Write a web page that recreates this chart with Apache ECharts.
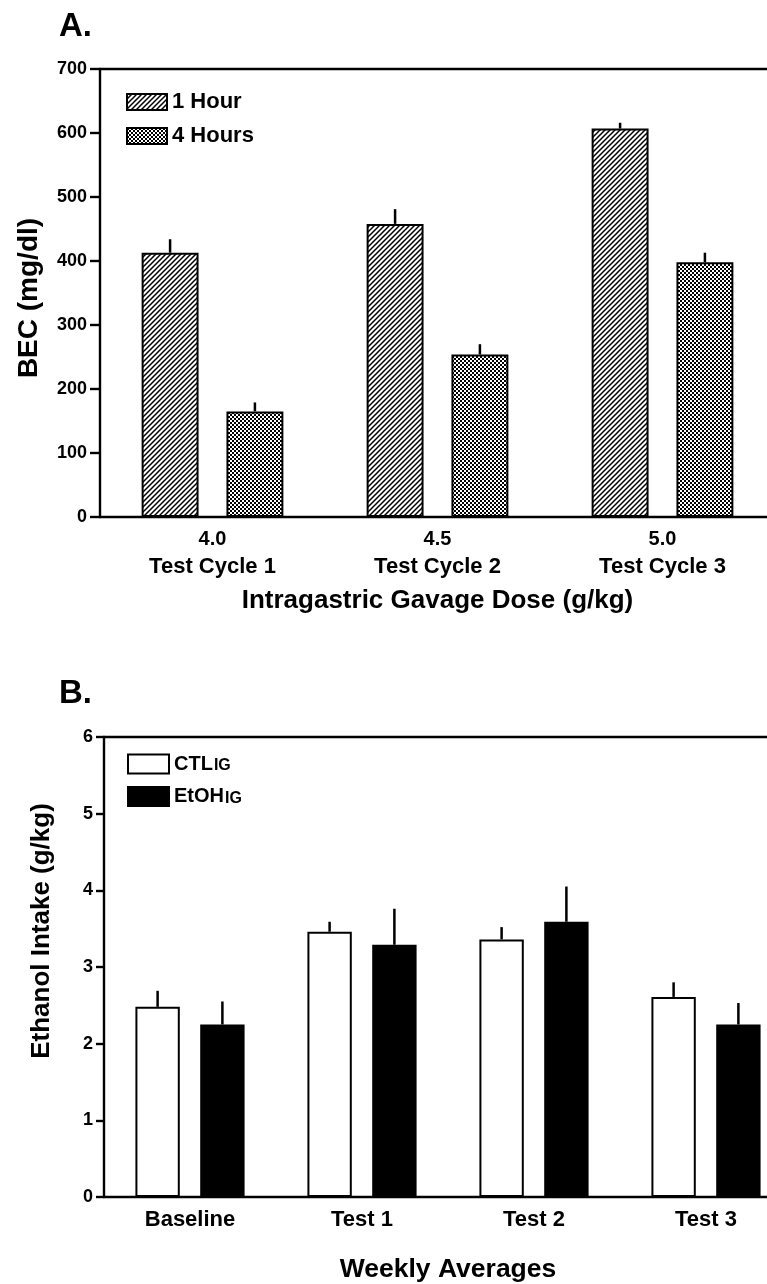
<!DOCTYPE html>
<html>
<head>
<meta charset="utf-8">
<script src="https://cdn.jsdelivr.net/npm/echarts@6/dist/echarts.min.js"></script>
<style>
    html, body { margin: 0; padding: 0; background: #fff; }
    #chart { width: 767px; height: 1284px; }
</style>
</head>
<body>
<div id="chart"></div>
<script>
// panel A: blood ethanol after gavage
const doses = ['4.0', '4.5', '5.0']
const cycles = ['Test Cycle 1', 'Test Cycle 2', 'Test Cycle 3']
const becOneHour = [413, 458, 607]
const becOneHourSem = [21, 23, 9]
const becFourHours = [165, 254, 398]
const becFourHoursSem = [14, 16, 15]

// panel B: weekly ethanol intake
const weeks = ['Baseline', 'Test 1', 'Test 2', 'Test 3']
const groups = ['CTL', 'EtOH']
const intakeCtl = [2.48, 3.46, 3.36, 2.61]
const intakeCtlSem = [0.21, 0.13, 0.16, 0.19]
const intakeEtoh = [2.25, 3.29, 3.59, 2.25]
const intakeEtohSem = [0.30, 0.47, 0.46, 0.28]

const FONT = 'Liberation Sans, Arial, sans-serif'
const INK = '#000'

const hatch = () => {
    const c = document.createElement('canvas')
    c.width = c.height = 5
    const g = c.getContext('2d')
    g.fillStyle = '#fff'
    g.fillRect(0, 0, 5, 5)
    g.strokeStyle = INK
    g.lineWidth = 1.5
    g.beginPath()
    g.moveTo(-1, 6); g.lineTo(6, -1)
    g.moveTo(-1, 1); g.lineTo(1, -1)
    g.moveTo(4, 6); g.lineTo(6, 4)
    g.stroke()
    return { image: c, repeat: 'repeat' }
}
const checker = () => {
    const c = document.createElement('canvas')
    c.width = c.height = 4
    const g = c.getContext('2d')
    g.fillStyle = '#fff'
    g.fillRect(0, 0, 4, 4)
    g.fillStyle = INK
    g.fillRect(0, 0, 2, 2)
    g.fillRect(2, 2, 2, 2)
    return { image: c, repeat: 'repeat' }
}

// upward-only error line drawn over each bar
const errorBars = (name, values, sems, axis, side, widthPct, gapPct) => ({
    type: 'custom',
    name,
    xAxisIndex: axis * 2,
    yAxisIndex: axis,
    z: 5,
    data: values.map((v, i) => [i, v, sems[i]]),
    renderItem: (params, api) => {
        const band = api.size([1, 0])[0]
        const w = band * widthPct
        const off = side * (w + w * gapPct) / 2
        const a = api.coord([api.value(0), api.value(1)])
        const b = api.coord([api.value(0), api.value(1) + api.value(2)])
        return {
            type: 'line',
            shape: { x1: a[0] + off, y1: a[1], x2: b[0] + off, y2: b[1] },
            style: { stroke: INK, lineWidth: 2.5 },
        }
    },
})

const axisLine = { show: true, lineStyle: { color: INK, width: 2.4 } }
const txt = (size, extra) => Object.assign({ color: INK, fontFamily: FONT, fontWeight: 'bold', fontSize: size }, extra || {})

const frameAxis = (gridIndex, data) => ({
    type: 'category', gridIndex, position: 'top', data,
    axisLine, axisTick: { show: false }, axisLabel: { show: false },
})

const chart = echarts.init(document.getElementById('chart'), null, { renderer: 'canvas' })
chart.setOption({
    animation: false,
    backgroundColor: '#fff',
    grid: [
        { left: 100, top: 69, width: 675, height: 448, outerBoundsMode: 'none' },
        { left: 104, top: 737, width: 688, height: 460, outerBoundsMode: 'none' },
    ],
    graphic: [
        { type: 'text', left: 59, top: 10, style: txt(33, { text: 'A.' }) },
        { type: 'text', left: 59, top: 677, style: txt(33, { text: 'B.' }) },
    ],
    legend: [
        {
            data: ['1 Hour', '4 Hours'],
            left: 126, top: 91, orient: 'vertical', padding: 0,
            itemWidth: 40, itemHeight: 16, itemGap: 12, icon: 'rect',
            selectedMode: false,
            textStyle: txt(22, { lineHeight: 16 }),
        },
        {
            data: groups,
            left: 127, top: 745, orient: 'vertical', padding: 0,
            itemWidth: 41, itemHeight: 19, itemGap: 3, icon: 'rect',
            selectedMode: false,
            formatter: name => `{a|${name}}{b|IG}`,
            textStyle: txt(20, {
                rich: {
                    a: txt(20, { lineHeight: 20, verticalAlign: 'top' }),
                    b: txt(16, { lineHeight: 16, verticalAlign: 'bottom', padding: [13, 0, 0, 1] }),
                },
            }),
        },
    ],
    xAxis: [
        {
            type: 'category', gridIndex: 0, data: doses,
            axisLine,
            axisTick: { alignWithLabel: true, length: 9, lineStyle: { color: INK, width: 2.4 } },
            axisLabel: {
                margin: 8,
                formatter: (v, i) => `{d|${v}}\n{c|${cycles[i]}}`,
                rich: {
                    d: txt(20, { lineHeight: 28 }),
                    c: txt(22, { lineHeight: 28 }),
                },
            },
            name: 'Intragastric Gavage Dose (g/kg)', nameLocation: 'middle', nameGap: 71,
            nameTextStyle: txt(26, { lineHeight: 26 }),
        },
        frameAxis(0, doses),
        {
            type: 'category', gridIndex: 1, data: weeks,
            axisLine,
            axisTick: { show: false },
            axisLabel: txt(22, { lineHeight: 22, margin: 12 }),
            name: 'Weekly Averages', nameLocation: 'middle', nameGap: 59,
            nameTextStyle: txt(26.5, { lineHeight: 27 }),
        },
        frameAxis(1, weeks),
    ],
    yAxis: [
        {
            type: 'value', gridIndex: 0, min: 0, max: 700, interval: 100,
            axisLine, splitLine: { show: false },
            axisTick: { show: true, length: 10, lineStyle: { color: INK, width: 2.4 } },
            axisLabel: txt(18, { margin: 13 }),
            name: 'BEC (mg/dl)', nameLocation: 'middle', nameGap: 57,
            nameTextStyle: txt(28, { lineHeight: 28, padding: [0, 10, 0, 0] }),
        },
        {
            type: 'value', gridIndex: 1, min: 0, max: 6, interval: 1,
            axisLine, splitLine: { show: false },
            axisTick: { show: true, length: 8, lineStyle: { color: INK, width: 2.4 } },
            axisLabel: txt(18, { margin: 11 }),
            name: 'Ethanol Intake (g/kg)', nameLocation: 'middle', nameGap: 49,
            nameTextStyle: txt(26, { lineHeight: 26, padding: [0, 0, 0, 72] }),
        },
    ],
    series: [
        {
            type: 'bar', name: '1 Hour', xAxisIndex: 0, yAxisIndex: 0,
            data: becOneHour, barWidth: '25.3%', barGap: '49%',
            itemStyle: { color: hatch(), borderColor: INK, borderWidth: 2 },
        },
        {
            type: 'bar', name: '4 Hours', xAxisIndex: 0, yAxisIndex: 0,
            data: becFourHours, barWidth: '25.3%', barGap: '49%',
            itemStyle: { color: checker(), borderColor: INK, borderWidth: 2 },
        },
        errorBars('1 Hour sem', becOneHour, becOneHourSem, 0, -1, 0.253, 0.49),
        errorBars('4 Hours sem', becFourHours, becFourHoursSem, 0, 1, 0.253, 0.49),
        {
            type: 'bar', name: 'CTL', xAxisIndex: 2, yAxisIndex: 1,
            data: intakeCtl, barWidth: '25.8%', barGap: '46%',
            itemStyle: { color: '#fff', borderColor: INK, borderWidth: 2 },
        },
        {
            type: 'bar', name: 'EtOH', xAxisIndex: 2, yAxisIndex: 1,
            data: intakeEtoh, barWidth: '25.8%', barGap: '46%',
            itemStyle: { color: INK, borderColor: INK, borderWidth: 2 },
        },
        errorBars('CTL sem', intakeCtl, intakeCtlSem, 1, -1, 0.258, 0.46),
        errorBars('EtOH sem', intakeEtoh, intakeEtohSem, 1, 1, 0.258, 0.46),
    ],
})
</script>
</body>
</html>
